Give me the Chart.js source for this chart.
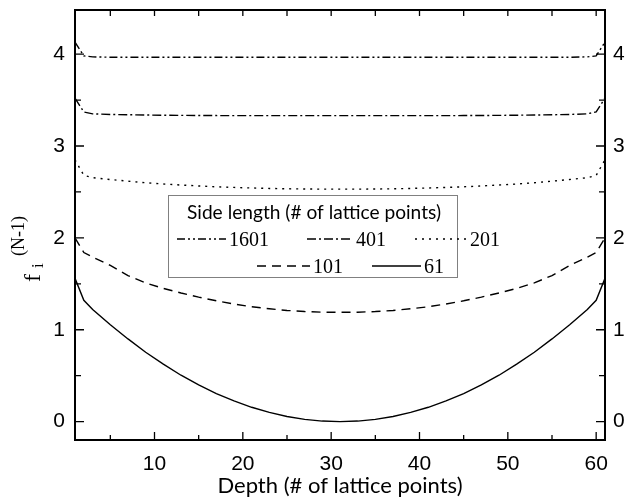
<!DOCTYPE html>
<html lang="en">
<head>
    <meta charset="UTF-8">
    <title>Side length profiles</title>
    <style>
        html, body { margin: 0; padding: 0; background: #fff; }
        #wrap { width: 628px; height: 499px; position: relative; }
    </style>
    <script src="https://cdn.jsdelivr.net/npm/chart.js"></script>
</head>
<body>
    <div id="wrap"><canvas id="chart"></canvas></div>

    <script>
        // Depth positions (# of lattice points) where values were read
        const depth = [1, 2, 3, 5, 7, 9, 11, 13, 15, 17, 19, 21, 23, 25, 27, 29, 31,
                       33, 35, 37, 39, 41, 43, 45, 47, 49, 51, 53, 55, 57, 59, 60, 61];

        // f_i^(N-1) for each side length
        const side1601 = [4.13, 3.98, 3.97, 3.966, 3.965, 3.965, 3.965, 3.965, 3.965, 3.965, 3.965, 3.965, 3.965, 3.965, 3.965, 3.965, 3.965,
                          3.965, 3.965, 3.965, 3.965, 3.965, 3.965, 3.965, 3.965, 3.965, 3.965, 3.965, 3.965, 3.966, 3.97, 3.98, 4.13];
        const side401 = [3.52, 3.37, 3.35, 3.343, 3.34, 3.337, 3.335, 3.333, 3.332, 3.331, 3.33, 3.33, 3.33, 3.33, 3.33, 3.33, 3.33,
                         3.33, 3.33, 3.33, 3.33, 3.33, 3.33, 3.331, 3.332, 3.333, 3.335, 3.337, 3.34, 3.343, 3.35, 3.37, 3.52];
        const side201 = [2.85, 2.68, 2.655, 2.635, 2.617, 2.60, 2.586, 2.575, 2.565, 2.556, 2.549, 2.543, 2.538, 2.534, 2.532, 2.53, 2.53,
                         2.53, 2.532, 2.534, 2.538, 2.543, 2.549, 2.556, 2.565, 2.575, 2.586, 2.60, 2.617, 2.635, 2.655, 2.68, 2.85];
        const side101 = [2.00, 1.84, 1.79, 1.70, 1.59, 1.51, 1.45, 1.40, 1.355, 1.315, 1.28, 1.25, 1.228, 1.21, 1.198, 1.191, 1.19,
                         1.191, 1.198, 1.21, 1.228, 1.25, 1.28, 1.315, 1.355, 1.40, 1.45, 1.51, 1.59, 1.70, 1.79, 1.84, 2.00];
        const side61 = [1.56, 1.32, 1.22, 1.055, 0.90, 0.755, 0.625, 0.505, 0.40, 0.305, 0.225, 0.156, 0.10, 0.056, 0.025, 0.006, 0.0,
                        0.006, 0.025, 0.056, 0.10, 0.156, 0.225, 0.305, 0.40, 0.505, 0.625, 0.755, 0.90, 1.055, 1.22, 1.32, 1.56];

        const seriesNames = ['1601', '401', '201', '101', '61'];

        // Axis ticks
        const xTicks = [10, 20, 30, 40, 50, 60];
        const xMinorTicks = [5, 15, 25, 35, 45, 55];
        const yTicks = [0, 1, 2, 3, 4];
        const yMinorTicks = [0.5, 1.5, 2.5, 3.5];

        const dashes = {
            '1601': [8, 3, 2, 3, 2, 3],
            '401': [9, 3, 2, 3],
            '201': [2, 5],
            '101': [9, 6],
            '61': []
        };

        const toPoints = arr => arr.map((v, i) => ({ x: depth[i], y: v }));
        const seriesData = [side1601, side401, side201, side101, side61];

        const datasets = seriesNames.map((name, i) => ({
            label: name,
            data: toPoints(seriesData[i]),
            borderColor: '#000',
            borderWidth: 1.4,
            borderDash: dashes[name],
            pointRadius: 0,
            tension: 0,
            fill: false
        }));

        const tickFont = { family: '"Liberation Sans", Arial, sans-serif', size: 21 };

        const noPad = s => { s.paddingTop = 0; s.paddingBottom = 0; s.paddingLeft = 0; s.paddingRight = 0; };

        // Frame, inward ticks, y title and legend box
        const decorations = {
            id: 'decorations',
            afterDraw(chart) {
                const ctx = chart.ctx;
                const a = chart.chartArea;
                const xs = chart.scales.x, ys = chart.scales.y;
                ctx.save();
                ctx.strokeStyle = '#000';
                ctx.lineWidth = 1.3;
                ctx.setLineDash([]);
                ctx.beginPath();
                const tick = (x1, y1, x2, y2) => { ctx.moveTo(x1, y1); ctx.lineTo(x2, y2); };
                xTicks.forEach(v => {
                    const p = xs.getPixelForValue(v);
                    tick(p, a.bottom, p, a.bottom - 8);
                    tick(p, a.top, p, a.top + 6);
                });
                xMinorTicks.forEach(v => {
                    const p = xs.getPixelForValue(v);
                    tick(p, a.bottom, p, a.bottom - 5);
                    tick(p, a.top, p, a.top + 6);
                });
                yTicks.forEach(v => {
                    const p = ys.getPixelForValue(v);
                    tick(a.left, p, a.left + 9, p);
                    tick(a.right, p, a.right - 9, p);
                });
                yMinorTicks.forEach(v => {
                    const p = ys.getPixelForValue(v);
                    tick(a.left, p, a.left + 6, p);
                    tick(a.right, p, a.right - 6, p);
                });
                ctx.stroke();

                ctx.lineWidth = 2;
                ctx.strokeRect(a.left, a.top, a.right - a.left, a.bottom - a.top);

                // y axis title: f_i^(N-1)
                ctx.fillStyle = '#000';
                ctx.translate(40, 282);
                ctx.rotate(-Math.PI / 2);
                ctx.textBaseline = 'alphabetic';
                ctx.textAlign = 'left';
                ctx.font = '24px "Liberation Serif", "Times New Roman", serif';
                ctx.fillText('f', 0, 0);
                ctx.font = '17px "Liberation Serif", "Times New Roman", serif';
                ctx.fillText('i', 14, 3);
                ctx.font = '18px "Liberation Serif", "Times New Roman", serif';
                ctx.fillText('(N-1)', 26, -16);
                ctx.restore();

                // legend box
                ctx.save();
                const bx = 168, by = 195, bw = 289, bh = 82;
                ctx.fillStyle = '#fff';
                ctx.fillRect(bx, by, bw, bh);
                ctx.strokeStyle = '#808080';
                ctx.lineWidth = 1;
                ctx.strokeRect(bx + 0.5, by + 0.5, bw, bh);
                ctx.fillStyle = '#000';
                ctx.textAlign = 'left';
                ctx.textBaseline = 'alphabetic';
                ctx.font = '19.5px Lato, "Open Sans", sans-serif';
                ctx.fillText('Side length (# of lattice points)', 187, 219, 254);

                const entries = [
                    { name: '1601', x1: 177, x2: 226, ly: 239, tx: 229, ty: 246 },
                    { name: '401', x1: 307, x2: 352, ly: 239, tx: 356, ty: 246 },
                    { name: '201', x1: 415, x2: 467, ly: 239, tx: 470, ty: 246 },
                    { name: '101', x1: 257, x2: 310, ly: 266, tx: 313, ty: 273 },
                    { name: '61', x1: 372, x2: 421, ly: 266, tx: 424, ty: 273 }
                ];
                ctx.font = '20px "Liberation Serif", "Times New Roman", serif';
                entries.forEach(e => {
                    ctx.strokeStyle = '#000';
                    ctx.lineWidth = 1.3;
                    ctx.setLineDash(dashes[e.name]);
                    ctx.beginPath();
                    ctx.moveTo(e.x1, e.ly);
                    ctx.lineTo(e.x2, e.ly);
                    ctx.stroke();
                    ctx.setLineDash([]);
                    ctx.fillText(e.name, e.tx, e.ty);
                });
                ctx.restore();
            }
        };

        new Chart(document.getElementById('chart'), {
            type: 'line',
            data: { datasets: datasets },
            options: {
                responsive: true,
                maintainAspectRatio: false,
                animation: false,
                layout: { padding: { top: 10, left: 0, right: 0, bottom: 0 } },
                plugins: {
                    legend: { display: false },
                    tooltip: { enabled: false }
                },
                scales: {
                    x: {
                        type: 'linear',
                        min: 1,
                        max: 61,
                        afterBuildTicks: s => { s.ticks = xTicks.map(v => ({ value: v })); },
                        afterFit: s => { s.height = 59; noPad(s); },
                        grid: { display: false, drawTicks: false },
                        border: { display: false },
                        ticks: { color: '#000', font: tickFont, padding: 12, maxRotation: 0 },
                        title: {
                            display: true,
                            text: 'Depth (# of lattice points)',
                            color: '#000',
                            font: { family: 'Lato, "Open Sans", sans-serif', size: 22 },
                            padding: { top: 0, bottom: 0 }
                        }
                    },
                    y: {
                        type: 'linear',
                        position: 'left',
                        min: -0.2,
                        max: 4.48,
                        afterBuildTicks: s => { s.ticks = yTicks.map(v => ({ value: v })); },
                        afterFit: s => { s.width = 75; noPad(s); },
                        grid: { display: false, drawTicks: false },
                        border: { display: false },
                        ticks: { color: '#000', font: tickFont, padding: 10 }
                    },
                    y2: {
                        type: 'linear',
                        position: 'right',
                        min: -0.2,
                        max: 4.48,
                        afterBuildTicks: s => { s.ticks = yTicks.map(v => ({ value: v })); },
                        afterFit: s => { s.width = 23; noPad(s); },
                        grid: { display: false, drawTicks: false },
                        border: { display: false },
                        ticks: { color: '#000', font: tickFont, padding: 8 }
                    }
                }
            },
            plugins: [decorations]
        });
    </script>
</body>
</html>
